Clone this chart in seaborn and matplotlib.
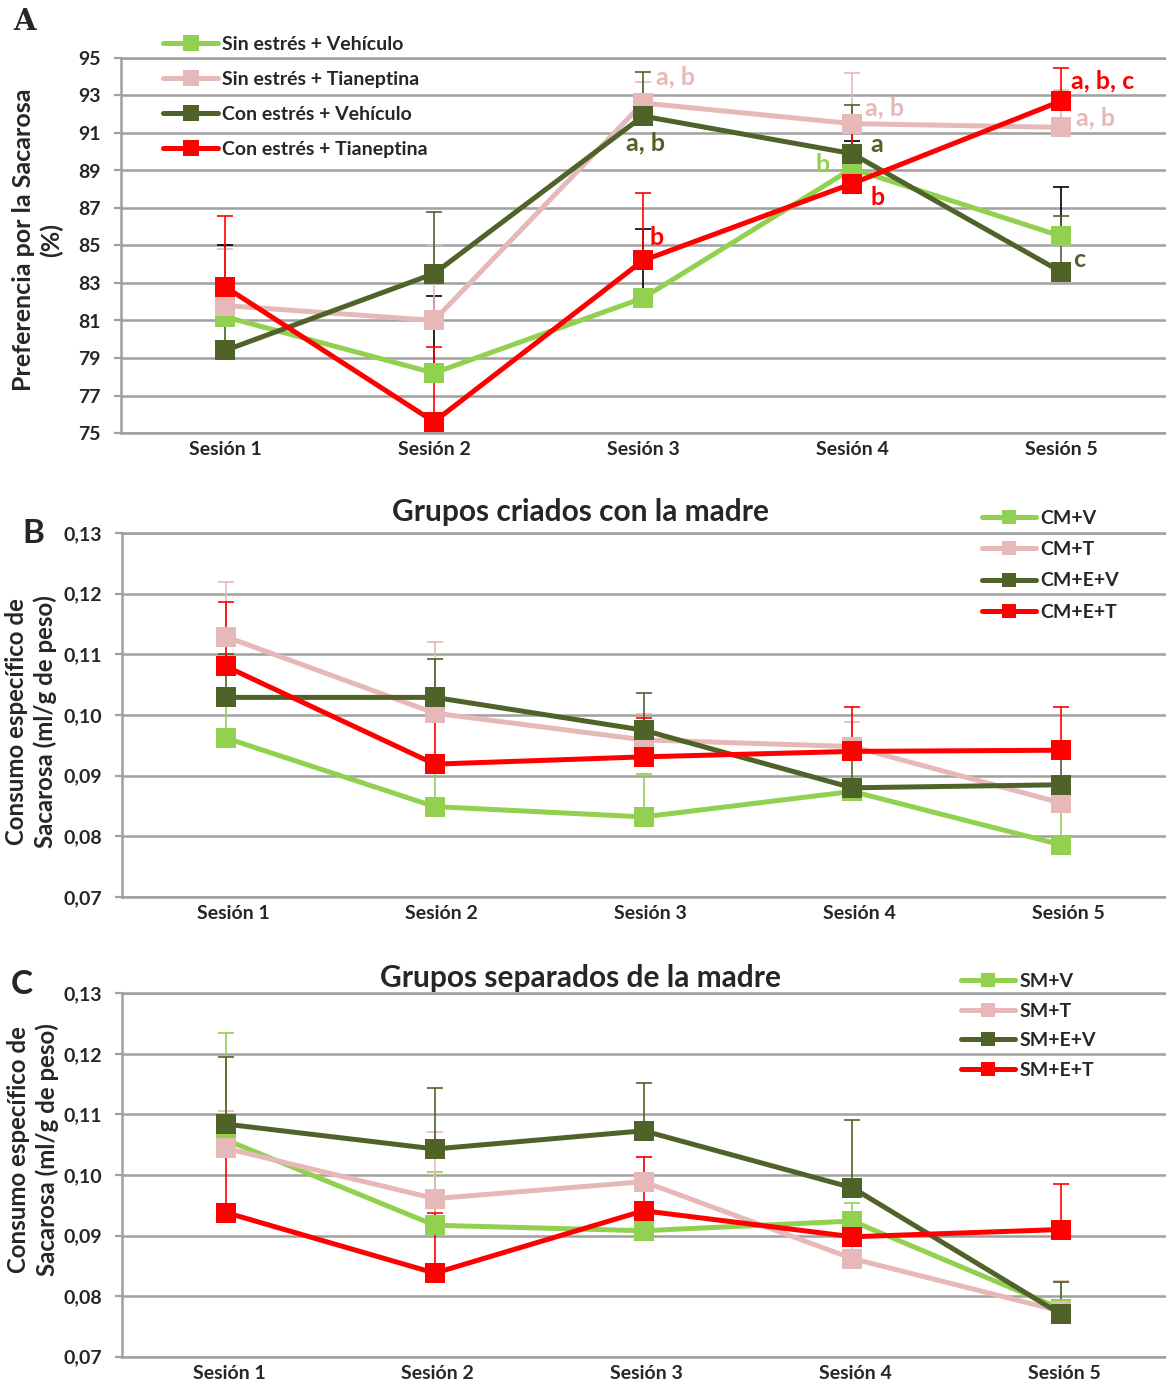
import numpy as np
import pandas as pd
import matplotlib
matplotlib.use("Agg")
import matplotlib.pyplot as plt
import matplotlib.transforms as mtransforms
from matplotlib.lines import Line2D
import seaborn as sns

# ---------------- data ----------------
sessions = ["Sesión 1", "Sesión 2", "Sesión 3", "Sesión 4", "Sesión 5"]

# Panel A: Preferencia por la sacarosa (%)
A_groups = ["Sin estrés + Vehículo", "Sin estrés + Tianeptina",
            "Con estrés + Vehículo", "Con estrés + Tianeptina"]
A_sin_veh = [81.2, 78.2, 82.2, 89.1, 85.5]
A_sin_tia = [81.8, 81.0, 92.6, 91.5, 91.3]
A_con_veh = [79.4, 83.5, 91.9, 89.9, 83.6]
A_con_tia = [82.8, 75.6, 84.2, 88.3, 92.7]
A_err_sin_veh = [3.8, 4.1, 3.7, 1.5, 2.6]
A_err_sin_tia = [3.0, 4.0, 1.1, 2.7, 2.0]
A_err_con_veh = [2.5, 3.3, 2.35, 2.6, 3.0]
A_err_con_tia = [3.8, 4.0, 3.6, 2.7, 1.75]
A_yticks = [75, 77, 79, 81, 83, 85, 87, 89, 91, 93, 95]

# significance letters
A_letters_x = [2.06, 2.01, 2.03, 3.06, 3.09, 2.86, 3.09, 4.05, 4.07, 4.06]
A_letters_y = [94.0, 90.45, 85.45, 92.35, 90.4, 89.3, 87.55, 93.8, 91.8, 84.25]
A_letters_txt = ["a, b", "a, b", "b", "a, b", "a", "b", "b", "a, b, c", "a, b", "c"]
A_letters_grp = [1, 2, 3, 1, 2, 0, 3, 3, 1, 2]
A_letters_ha = ["left", "center", "left", "left", "left", "center", "left", "left", "left", "left"]

# Panel B: Grupos criados con la madre
B_groups = ["CM+V", "CM+T", "CM+E+V", "CM+E+T"]
B_cm_v = [0.0962, 0.0849, 0.0832, 0.0874, 0.0786]
B_cm_t = [0.1129, 0.1003, 0.0959, 0.0948, 0.0855]
B_cm_e_v = [0.1029, 0.1029, 0.0975, 0.0880, 0.0885]
B_cm_e_t = [0.1080, 0.0919, 0.0931, 0.0940, 0.0942]
B_err_cm_v = [0.0060, 0.0060, 0.0071, 0.0020, 0.0060]
B_err_cm_t = [0.0091, 0.0117, 0.0043, 0.0041, 0.0030]
B_err_cm_e_v = [0.0072, 0.0064, 0.0062, 0.0060, 0.0050]
B_err_cm_e_t = [0.0106, 0.0080, 0.0064, 0.0074, 0.0072]

# Panel C: Grupos separados de la madre
C_groups = ["SM+V", "SM+T", "SM+E+V", "SM+E+T"]
C_sm_v = [0.1058, 0.0917, 0.0908, 0.0924, 0.0779]
C_sm_t = [0.1044, 0.0961, 0.0989, 0.0862, 0.0775]
C_sm_e_v = [0.1084, 0.1043, 0.1073, 0.0979, 0.0770]
C_sm_e_t = [0.0938, 0.0838, 0.0941, 0.0898, 0.0910]
C_err_sm_v = [0.0177, 0.0088, 0.0030, 0.0030, 0.0045]
C_err_sm_t = [0.0061, 0.0110, 0.0040, 0.0040, 0.0050]
C_err_sm_e_v = [0.0111, 0.0100, 0.0079, 0.0111, 0.0054]
C_err_sm_e_t = [0.0106, 0.0099, 0.0089, 0.0026, 0.0075]

BC_yticks = [0.07, 0.08, 0.09, 0.10, 0.11, 0.12, 0.13]
BC_yticklabels = ["0,07", "0,08", "0,09", "0,10", "0,11", "0,12", "0,13"]

colors = ["#92D050", "#E6B9B8", "#4F6228", "#FF0000"]
A_err_colors = ["#000000", "#E6B9B8", "#4F6228", "#FF0000"]
GRID = "#A0A0A0"

# ---------------- style ----------------
sns.set_theme(style="white")
plt.rcParams['font.family'] = ['Lato', 'DejaVu Sans']
plt.rcParams['font.weight'] = 'bold'

W, H = 1166, 1382
fig = plt.figure(figsize=(W / 100, H / 100), dpi=100)
TICK_FS = 14
LEG_FS = 14


def add_axes(left, top, right, bottom):
    return fig.add_axes([left / W, 1 - bottom / H, (right - left) / W, (bottom - top) / H])


def draw_panel(ax, groups, values, errors, err_colors, ylim, yticks, yticklabels, ms, xshift):
    df = pd.DataFrame({
        "sesion": np.tile(np.arange(len(sessions)), len(groups)),
        "valor": np.concatenate([np.asarray(v, float) for v in values]),
        "grupo": np.repeat(groups, len(sessions)),
    })
    for i in range(len(groups)):
        ax.errorbar(np.arange(len(sessions)), values[i],
                    yerr=[np.zeros(len(sessions)), errors[i]],
                    fmt='none', ecolor=err_colors[i], elinewidth=1.2,
                    capsize=6, capthick=1.2, zorder=1.6)
    sns.lineplot(data=df, x="sesion", y="valor", hue="grupo", hue_order=groups,
                 palette=colors, marker='s', markersize=ms, markeredgewidth=0,
                 linewidth=3.6, legend=False, ax=ax, estimator=None, sort=False)
    ax.set_xlim(-0.5, 4.5)
    ax.set_ylim(*ylim)
    ax.set_yticks(yticks)
    ax.set_yticklabels(yticklabels)
    ax.set_xticks(np.arange(len(sessions)))
    ax.set_xticklabels(sessions)
    ax.set_xlabel("")
    ax.set_ylabel("")
    ax.grid(axis='y', color=GRID, lw=1.8)
    ax.grid(axis='x', visible=False)
    ax.set_axisbelow(True)
    for s in ["left", "bottom", "top"]:
        ax.spines[s].set_visible(True)
        ax.spines[s].set_color(GRID)
        ax.spines[s].set_linewidth(1.8)
    ax.spines["right"].set_visible(False)
    ax.tick_params(axis='y', length=5, width=1.6, color=GRID, direction='out',
                   pad=9, labelsize=TICK_FS, left=True)
    ax.tick_params(axis='x', length=0, pad=6, labelsize=TICK_FS)
    for lab in ax.get_xticklabels() + ax.get_yticklabels():
        lab.set_fontweight('bold')
    off = mtransforms.ScaledTranslation(xshift / 100, 0, fig.dpi_scale_trans)
    for lab in ax.get_xticklabels():
        lab.set_transform(lab.get_transform() + off)


def legend_handles(ms):
    return [Line2D([0], [0], color=c, lw=3.6, marker='s', markersize=ms, markeredgewidth=0)
            for c in colors]


# ---------------- Panel A ----------------
axA = add_axes(120.5, 58, 1165.5, 433)
draw_panel(axA, A_groups, [A_sin_veh, A_sin_tia, A_con_veh, A_con_tia],
           [A_err_sin_veh, A_err_sin_tia, A_err_con_veh, A_err_con_tia],
           A_err_colors, (75, 95), A_yticks, [str(t) for t in A_yticks], 15, 0)
for x, y, t, g, ha in zip(A_letters_x, A_letters_y, A_letters_txt, A_letters_grp, A_letters_ha):
    axA.text(x, y, t, color=colors[g], fontsize=18, fontweight='bold', ha=ha, va='center', zorder=5)
fig.legend(handles=legend_handles(11), labels=A_groups, loc='upper left',
           bbox_to_anchor=(163 / W, 1 - 36 / H), frameon=False,
           handlelength=2.85, handletextpad=0.2, labelspacing=0.93,
           borderpad=0, borderaxespad=0, prop={'weight': 'bold', 'size': LEG_FS})
fig.text(37.5 / W, 1 - 240 / H, "Preferencia por la Sacarosa\n(%)", rotation=90,
         ha='center', va='center', fontsize=18, fontweight='bold', linespacing=1.25,
         multialignment='center')
fig.text(25 / W, 1 - 22 / H, "A", fontsize=21, fontweight='bold', ha='center', va='center',
         family=['DejaVu Serif'])

# ---------------- Panel B ----------------
axB = add_axes(121.6, 533, 1165.5, 897)
draw_panel(axB, B_groups, [B_cm_v, B_cm_t, B_cm_e_v, B_cm_e_t],
           [B_err_cm_v, B_err_cm_t, B_err_cm_e_v, B_err_cm_e_t],
           colors, (0.07, 0.13), BC_yticks, BC_yticklabels, 14, 7)
fig.text(581 / W, 1 - 512 / H, "Grupos criados con la madre", ha='center', va='center',
         fontsize=21.5, fontweight='bold')
fig.legend(handles=legend_handles(10), labels=B_groups, loc='upper left',
           bbox_to_anchor=(982 / W, 1 - 510 / H), frameon=False,
           handlelength=2.8, handletextpad=0.2, labelspacing=0.73,
           borderpad=0, borderaxespad=0, prop={'weight': 'bold', 'size': LEG_FS})
fig.text(31 / W, 1 - 722 / H, "Consumo específico de\nSacarosa (ml/g de peso)", rotation=90,
         ha='center', va='center', fontsize=17.3, fontweight='bold', linespacing=1.32,
         multialignment='center')
fig.text(33 / W, 1 - 533 / H, "B", fontsize=24, fontweight='bold', ha='center', va='center')

# ---------------- Panel C ----------------
axC = add_axes(121.6, 993.3, 1165.5, 1356.7)
draw_panel(axC, C_groups, [C_sm_v, C_sm_t, C_sm_e_v, C_sm_e_t],
           [C_err_sm_v, C_err_sm_t, C_err_sm_e_v, C_err_sm_e_t],
           colors, (0.07, 0.13), BC_yticks, BC_yticklabels, 14, 3)
fig.text(581 / W, 1 - 978 / H, "Grupos separados de la madre", ha='center', va='center',
         fontsize=21.5, fontweight='bold')
fig.legend(handles=legend_handles(10), labels=C_groups, loc='upper left',
           bbox_to_anchor=(961 / W, 1 - 973 / H), frameon=False,
           handlelength=2.8, handletextpad=0.2, labelspacing=0.65,
           borderpad=0, borderaxespad=0, prop={'weight': 'bold', 'size': LEG_FS})
fig.text(33 / W, 1 - 1150 / H, "Consumo específico de\nSacarosa (ml/g de peso)", rotation=90,
         ha='center', va='center', fontsize=17.3, fontweight='bold', linespacing=1.32,
         multialignment='center')
fig.text(22 / W, 1 - 985 / H, "C", fontsize=24, fontweight='bold', ha='center', va='center')

fig.savefig("out.png", dpi=100)
